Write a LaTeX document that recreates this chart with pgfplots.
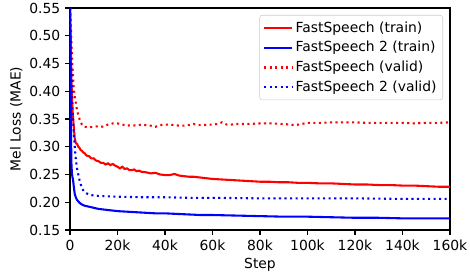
\documentclass[border=0pt]{standalone}
\usepackage{fontspec}
\setmainfont{DejaVu Sans}
\usepackage{pgfplots}
\pgfplotsset{compat=1.18}
\begin{document}
\begin{tikzpicture}[x=1pt,y=1pt]
\path[use as bounding box] (-50.4,-30.24) rectangle (288,165.6);
\begin{axis}[
  at={(0,0)}, anchor=south west,
  scale only axis, width=273.6pt, height=159.84pt,
  xmin=0, xmax=160, ymin=0.15, ymax=0.55,
  xtick={0,20,40,60,80,100,120,140,160},
  xticklabels={0,20k,40k,60k,80k,100k,120k,140k,160k},
  ytick={0.15,0.20,0.25,0.30,0.35,0.40,0.45,0.50,0.55},
  yticklabel style={/pgf/number format/fixed,/pgf/number format/fixed zerofill,/pgf/number format/precision=2},
  /pgf/number format/assume math mode=true,
  tick align=outside, xtick pos=bottom, ytick pos=left,
  major tick length=3.5pt,
  every tick/.style={black, line width=0.8pt},
  axis line style={line width=0.8pt},
  tick label style={font=\fontsize{10}{12}\selectfont},
  xlabel={Step}, ylabel={Mel Loss (MAE)},
  label style={font=\fontsize{10}{12}\selectfont},
  xlabel style={yshift=1.5pt},
  ylabel style={yshift=-2pt},
  legend style={at={(1,1)}, anchor=north east, xshift=-5pt, yshift=-5pt,
    draw=black!20, rounded corners=2pt, fill=white, fill opacity=0.8, text opacity=1,
    font=\fontsize{10}{12}\selectfont, row sep=1.2pt, inner sep=2.5pt},
  legend cell align=left,
  legend image code/.code={\draw[#1] (0pt,0pt) -- (20pt,0pt);},
  clip=true,
]
\addplot[red, line width=1.5pt] coordinates {
(0,0.56) (0.3,0.50) (0.6,0.42) (1,0.37) (1.5,0.34) (2,0.315) (2.5,0.306) (3,0.305) (3.5,0.300) (4,0.298)
(4.5,0.294) (5,0.293) (5.5,0.290) (6,0.289) (7,0.284) (8,0.283) (9,0.279) (10,0.279) (11,0.275) (12,0.274) (13,0.271) (14,0.271)
(15,0.268) (16,0.270) (17,0.267) (18,0.269) (19,0.266) (20,0.264) (21,0.261) (22,0.264) (23,0.260) (24,0.261)
(25,0.258) (26,0.258) (27,0.259) (28,0.256) (29,0.257) (30,0.255) (32,0.254) (34,0.252) (36,0.253) (38,0.250)
(40,0.249) (42,0.249) (44,0.251) (46,0.248) (48,0.247) (50,0.246) (52,0.246) (54,0.245) (56,0.244) (58,0.243)
(60,0.242) (64,0.241) (68,0.240) (72,0.239) (76,0.238) (80,0.237) (84,0.237) (88,0.236) (92,0.236) (96,0.235)
(100,0.235) (105,0.234) (110,0.234) (115,0.233) (120,0.232) (125,0.232) (130,0.231) (135,0.231) (140,0.230)
(145,0.230) (150,0.229) (155,0.228) (160,0.228)};
\addlegendentry{FastSpeech (train)}
\addplot[blue, line width=1.5pt] coordinates {
(0,0.56) (0.2,0.45) (0.4,0.33) (0.6,0.27) (0.8,0.252) (1,0.246) (1.3,0.240) (1.6,0.228) (2,0.215) (2.5,0.208)
(3,0.204) (4,0.199) (5,0.196) (6,0.194) (7,0.193) (8,0.192) (9,0.191) (10,0.190) (12,0.188) (14,0.187)
(16,0.186) (18,0.185) (20,0.184) (24,0.183) (28,0.182) (32,0.181) (36,0.180) (40,0.180) (45,0.179) (50,0.178)
(55,0.177) (60,0.177) (70,0.176) (80,0.175) (90,0.174) (100,0.174) (110,0.173) (120,0.172) (130,0.172)
(140,0.171) (150,0.171) (160,0.171)};
\addlegendentry{FastSpeech 2 (train)}
\addplot[red, line width=1.5pt, dash pattern=on 1.5pt off 2.475pt] coordinates {
(0,0.56) (0.5,0.50) (1,0.45) (1.5,0.41) (2,0.39) (3,0.365) (4,0.35) (5,0.34) (6,0.336) (8,0.335)
(10,0.336) (12,0.337) (14,0.336) (16,0.340) (18,0.342) (20,0.342) (22,0.340) (24,0.338) (26,0.339) (28,0.338)
(30,0.340) (32,0.339) (34,0.338) (36,0.336) (38,0.339) (40,0.340) (42,0.340) (44,0.339) (46,0.338) (48,0.338)
(50,0.339) (52,0.341) (54,0.339) (56,0.339) (58,0.340) (60,0.340) (62,0.341) (64,0.344) (66,0.340) (68,0.340)
(70,0.341) (75,0.341) (80,0.342) (85,0.342) (90,0.341) (95,0.339) (100,0.343) (105,0.343) (110,0.344)
(115,0.344) (120,0.344) (125,0.343) (130,0.343) (135,0.343) (140,0.343) (145,0.342) (150,0.343) (155,0.343) (160,0.344)};
\addlegendentry{FastSpeech (valid)}
\addplot[blue, line width=1.5pt, dash pattern=on 1.5pt off 2.475pt] coordinates {
(0,0.55) (0.5,0.45) (1,0.38) (1.5,0.33) (2,0.30) (2.5,0.275) (3,0.26) (4,0.24) (5,0.225) (6,0.219)
(7,0.216) (8,0.214) (10,0.212) (14,0.211) (20,0.210) (30,0.209) (40,0.209) (50,0.208) (60,0.208) (80,0.207)
(100,0.207) (120,0.207) (140,0.206) (160,0.206)};
\addlegendentry{FastSpeech 2 (valid)}
\end{axis}
\end{tikzpicture}
\end{document}
